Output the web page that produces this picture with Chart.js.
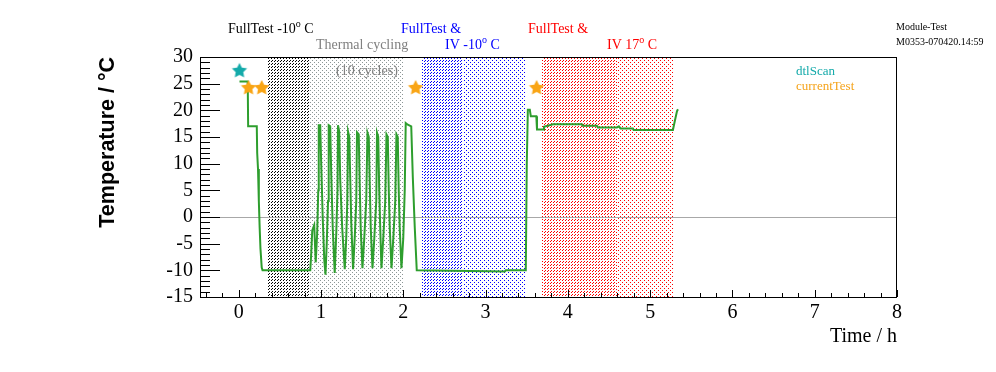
<!DOCTYPE html>
<html>
<head>
<meta charset="utf-8">
<script src="https://cdn.jsdelivr.net/npm/chart.js@4.4.1/dist/chart.umd.min.js"></script>
<style>
html, body { margin: 0; padding: 0; background: #fff; }
</style>
</head>
<body>
<canvas id="chartTemp" width="996" height="372"></canvas>
<script>
// tiempo en horas y temperatura en grados C
const horas = [
  0.01, 0.11, 0.115, 0.22, 0.225, 0.235, 0.245, 0.255, 0.265, 0.28, 0.29, 0.87,
  0.881, 0.894, 0.918, 0.936, 0.954, 0.967, 0.973, 0.991, 1.003, 1.021, 1.040, 1.055,
  1.070, 1.086, 1.094, 1.112, 1.125, 1.143, 1.167,
  1.186, 1.201, 1.207, 1.222, 1.234, 1.258, 1.289,
  1.307, 1.320, 1.329, 1.344, 1.356, 1.368, 1.390,
  1.410, 1.429, 1.438, 1.459, 1.471, 1.483, 1.504,
  1.526, 1.550, 1.565, 1.581, 1.593, 1.605, 1.626,
  1.648, 1.672, 1.681, 1.696, 1.708, 1.720, 1.735,
  1.757, 1.781, 1.796, 1.812, 1.824, 1.836, 1.857,
  1.879, 1.903, 1.917, 1.933, 1.945, 1.957, 1.978,
  2.000, 2.018, 2.030, 2.055, 2.097, 2.116, 2.140, 2.164,
  3.234, 3.246, 3.489, 3.501, 3.514, 3.538, 3.550, 3.617, 3.625, 3.700, 3.710,
  3.818, 4.170, 4.180, 4.353, 4.365, 4.596, 4.620, 4.640, 4.790, 4.800, 5.277,
  5.300, 5.326, 5.338
];
const temperaturas = [
  25.4, 25.4, 17, 17, 12, 9, 3, -2, -6, -9.5, -10, -10,
  -7, -2.5, -1.5, -8.5, -3, 5, 17.2, 17.2, 10, 0, -8, -10.8,
  -5, 3, 17.2, 17, 8, -2, -10.5,
  -3, 5, 17.2, 16, 7, -2, -9.8,
  -4, 3, 16, 15, 7, -1, -9.8,
  -4, 3, 15.9, 15.5, 6, -2, -9.6,
  -4, 3, 15.8, 15, 6, -2, -9.6,
  -4, 3, 15.8, 15, 5, -2, -9.6,
  -4, 3, 15.5, 15, 5, -2, -9.6,
  -4, 3, 15.5, 15, 5, -2, -9.6,
  -4, 5, 17.6, 17.3, 17, 7.5, -2, -10,
  -10.2, -10, -10, 10, 20.1, 20.1, 18.9, 18.9, 16.4, 16.4, 16.9,
  17.4, 17.4, 17.1, 17.1, 16.8, 16.8, 17.0, 16.6, 16.6, 16.3, 16.3,
  18, 19.8, 20.2
];

const dtlScanX = [0.01];
const dtlScanY = [27.4];
const currentTestX = [0.12, 0.28, 2.15, 3.62];
const currentTestY = [24.2, 24.2, 24.2, 24.2];

const xTicks = [0, 1, 2, 3, 4, 5, 6, 7, 8];
const yTicks = [-15, -10, -5, 0, 5, 10, 15, 20, 25, 30];

// fases del test (horas)
const faseInicio = [0.353, 0.851, 2.225, 2.723, 3.684, 4.596];
const faseFin    = [0.851, 2.006, 2.723, 3.477, 4.596, 5.277];
const faseEstilo = [['rayas', '#000000'], ['puntos', '#8c9696'], ['rayas', '#0000ff'],
                    ['puntos', '#0000ff'], ['rayas', '#ff0000'], ['puntos', '#ff0000']];

function patron(tipo, color) {
  const c = document.createElement('canvas');
  const g = c.getContext('2d');
  if (tipo === 'rayas') {
    // guiones //// cada 3 px
    c.width = 3; c.height = 3;
    g.fillStyle = color;
    g.fillRect(2, 0, 1, 1); g.fillRect(1, 1, 1, 1);
  } else {
    c.width = 4; c.height = 4;
    g.fillStyle = color;
    g.fillRect(0, 0, 1, 1); g.fillRect(2, 2, 1, 1);
  }
  return c;
}

function estrella(color, r) {
  const c = document.createElement('canvas');
  c.width = c.height = 2 * r + 2;
  const g = c.getContext('2d');
  g.fillStyle = color;
  g.beginPath();
  for (let i = 0; i < 10; i++) {
    const rr = i % 2 ? r * 0.5 : r;
    const a = -Math.PI / 2 + i * Math.PI / 5;
    g.lineTo(r + 1 + rr * Math.cos(a), r + 1 + rr * Math.sin(a));
  }
  g.closePath();
  g.fill();
  return c;
}

// texto con superindice: [texto, esSuper]
function textoRico(ctx, partes, x, y, size, color) {
  ctx.fillStyle = color;
  ctx.textAlign = 'left';
  ctx.textBaseline = 'alphabetic';
  for (const [t, sup] of partes) {
    ctx.font = (sup ? Math.round(size * 0.7) : size) + 'px "Liberation Serif"';
    ctx.fillText(t, x, sup ? y - size * 0.4 : y);
    x += ctx.measureText(t).width;
  }
}

const anotaciones = [
  [[['FullTest -10', false], ['o', true], [' C', false]], 228, 33, 14, '#000000'],
  [[['Thermal cycling', false]], 316, 49, 14, '#808080'],
  [[['(10 cycles)', false]], 336, 75, 14, '#808080'],
  [[['FullTest &', false]], 401, 33, 14, '#0000ff'],
  [[['IV -10', false], ['o', true], [' C', false]], 445, 49, 14, '#0000ff'],
  [[['FullTest &', false]], 528, 33, 14, '#ff0000'],
  [[['IV 17', false], ['o', true], [' C', false]], 607, 49, 14, '#ff0000'],
  [[['Module-Test', false]], 896, 30, 10, '#000000'],
  [[['M0353-070420.14:59', false]], 896, 45, 10, '#000000'],
  [[['dtlScan', false]], 796, 75, 13, '#14aaaa'],
  [[['currentTest', false]], 796, 90, 13, '#f5a31a']
];

const marcos = {
  id: 'marcos',
  beforeDatasetsDraw(chart) {
    const { ctx, chartArea: a, scales: { x, y } } = chart;
    ctx.save();
    faseInicio.forEach((v, i) => {
      const x0 = Math.round(x.getPixelForValue(v));
      const x1 = Math.round(x.getPixelForValue(faseFin[i]));
      ctx.fillStyle = ctx.createPattern(patron(faseEstilo[i][0], faseEstilo[i][1]), 'repeat');
      ctx.fillRect(x0, a.top, x1 - x0, a.bottom - a.top);
    });
    const y0 = Math.round(y.getPixelForValue(0)) + 0.5;
    ctx.strokeStyle = '#a8a8a8';
    ctx.lineWidth = 1;
    ctx.beginPath();
    ctx.moveTo(a.left, y0); ctx.lineTo(a.right, y0);
    ctx.stroke();
    ctx.restore();
  },
  afterDatasetsDraw(chart) {
    const { ctx, chartArea: a, scales: { x, y } } = chart;
    ctx.save();
    ctx.strokeStyle = '#000';
    ctx.lineWidth = 1;
    ctx.strokeRect(a.left + 0.5, a.top + 0.5, a.right - a.left - 1, a.bottom - a.top);
    ctx.beginPath();
    // eje x: mayores cada 1 h, menores cada 0.2 h
    for (let k = -2; k <= 40; k++) {
      const v = k * 0.2;
      if (v < x.min || v > x.max) continue;
      const px = Math.round(x.getPixelForValue(v)) + 0.5;
      const len = k % 5 === 0 ? 7 : 4;
      ctx.moveTo(px, a.bottom); ctx.lineTo(px, a.bottom - len);
    }
    // eje y: mayores cada 5, menores cada 1
    for (let v = -15; v <= 30; v++) {
      const py = Math.round(y.getPixelForValue(v)) + 0.5;
      const len = v % 5 === 0 ? 20 : 10;
      ctx.moveTo(a.left, py); ctx.lineTo(a.left + len, py);
    }
    ctx.stroke();
    ctx.restore();
  },
  afterDraw(chart) {
    const ctx = chart.ctx;
    ctx.save();
    anotaciones.forEach(([partes, x, y, s, c]) => textoRico(ctx, partes, x, y, s, c));
    ctx.restore();
  }
};

Chart.defaults.font.family = '"Liberation Serif"';
Chart.defaults.color = '#000';

new Chart(document.getElementById('chartTemp').getContext('2d'), {
  type: 'scatter',
  data: {
    datasets: [
      {
        label: 'dtlScan',
        data: dtlScanX.map((v, i) => ({ x: v, y: dtlScanY[i] })),
        pointStyle: estrella('#14aaaa', 8),
        pointRadius: 8
      },
      {
        label: 'currentTest',
        data: currentTestX.map((v, i) => ({ x: v, y: currentTestY[i] })),
        pointStyle: estrella('#f9a515', 8),
        pointRadius: 8
      },
      {
        label: 'Temperatura',
        data: horas.map((v, i) => ({ x: v, y: temperaturas[i] })),
        showLine: true,
        borderColor: '#2e9e2e',
        borderWidth: 2,
        pointRadius: 0,
        tension: 0
      }
    ]
  },
  options: {
    responsive: false,
    animation: false,
    devicePixelRatio: 1,
    layout: { padding: { left: 0, top: 57, right: 99, bottom: 0 } },
    plugins: { legend: { display: false }, tooltip: { enabled: false } },
    scales: {
      x: {
        type: 'linear',
        min: -0.47,
        max: 8,
        afterBuildTicks: s => { s.ticks = xTicks.map(v => ({ value: v })); },
        afterFit: s => { s.height = 75; },
        grid: { display: false, drawTicks: false },
        border: { display: false },
        ticks: { font: { size: 20 }, padding: 4, maxRotation: 0, autoSkip: false },
        title: {
          display: true, text: 'Time / h', align: 'end',
          font: { size: 20 }, padding: { top: 0, bottom: 23 }
        }
      },
      y: {
        type: 'linear',
        min: -15,
        max: 30,
        afterBuildTicks: s => { s.ticks = yTicks.map(v => ({ value: v })); },
        afterFit: s => { s.width = 200; },
        grid: { display: false, drawTicks: false },
        border: { display: false },
        ticks: { font: { size: 20 }, padding: 7, autoSkip: false },
        title: {
          display: true, text: 'Temperature / °C', align: 'end',
          font: { family: '"Liberation Sans"', size: 21.5, weight: 'bold' },
          padding: { top: 95, bottom: 0 }
        }
      }
    }
  },
  plugins: [marcos]
});
</script>
</body>
</html>
